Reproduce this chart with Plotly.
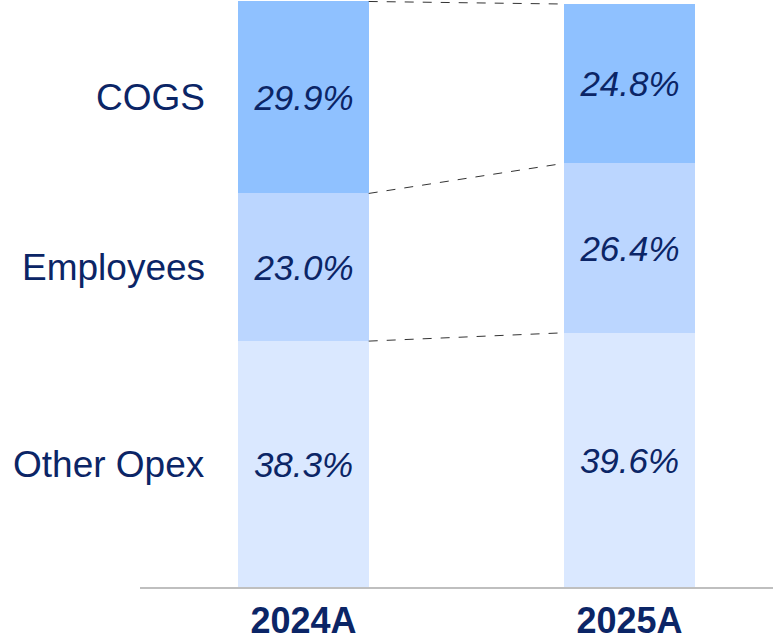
import plotly.graph_objects as go

years = ["2024A", "2025A"]
segments = ["Other Opex", "Employees", "COGS"]
other_opex = [38.3, 39.6]
employees = [23.0, 26.4]
cogs = [29.9, 24.8]
series = [other_opex, employees, cogs]
colors = ["#DAE8FF", "#BBD6FF", "#8FC1FF"]
navy = "#0B2566"

xpos = [0, 1]
bar_w = 0.4

fig = go.Figure()
for name, vals, col in zip(segments, series, colors):
    fig.add_trace(go.Bar(
        x=xpos, y=vals, name=name, width=bar_w,
        marker=dict(color=col, line=dict(width=0)),
        text=[f"{v:.1f}%" for v in vals], textposition="inside",
        insidetextanchor="middle",
        textfont=dict(family="Liberation Sans, Arial", size=35, color=navy, style="italic"),
        textangle=0, hoverinfo="skip",
    ))

# connector lines between stack boundaries
cum = [[0, 0]]
for vals in series:
    cum.append([cum[-1][i] + vals[i] for i in range(2)])
for level in cum[1:]:
    fig.add_shape(type="line", xref="x", yref="y",
                  x0=xpos[0] + bar_w / 2, y0=level[0],
                  x1=xpos[1] - bar_w / 2, y1=level[1],
                  line=dict(color="#333333", width=1, dash="dash"))

# segment labels on the left, aligned with first bar segments
for i, name in enumerate(segments):
    mid = cum[i][0] + series[i][0] / 2
    fig.add_annotation(x=-0.296, y=mid, xref="x", yref="y", text=name,
                       showarrow=False, xanchor="right", yanchor="middle",
                       font=dict(family="Liberation Sans, Arial", size=37, color=navy))

fig.update_layout(
    barmode="stack", bargap=0,
    width=773, height=642,
    margin=dict(l=140, r=0, t=0, b=55),
    paper_bgcolor="white", plot_bgcolor="white",
    showlegend=False,
    xaxis=dict(range=[-0.5015, 1.44], tickvals=xpos, ticktext=[f"<b>{y}</b>" for y in years],
               showgrid=False, zeroline=False, showline=True, linecolor="#BFBFBF", linewidth=2,
               ticks="", ticklabelstandoff=1, automargin=False,
               tickfont=dict(family="Liberation Sans, Arial", size=36, color=navy)),
    yaxis=dict(range=[0, 91.43], visible=False, showgrid=False, zeroline=False, automargin=False),
)

fig.write_html("out.html", config={"displayModeBar": False},
               post_script="document.body.style.margin='0';")
